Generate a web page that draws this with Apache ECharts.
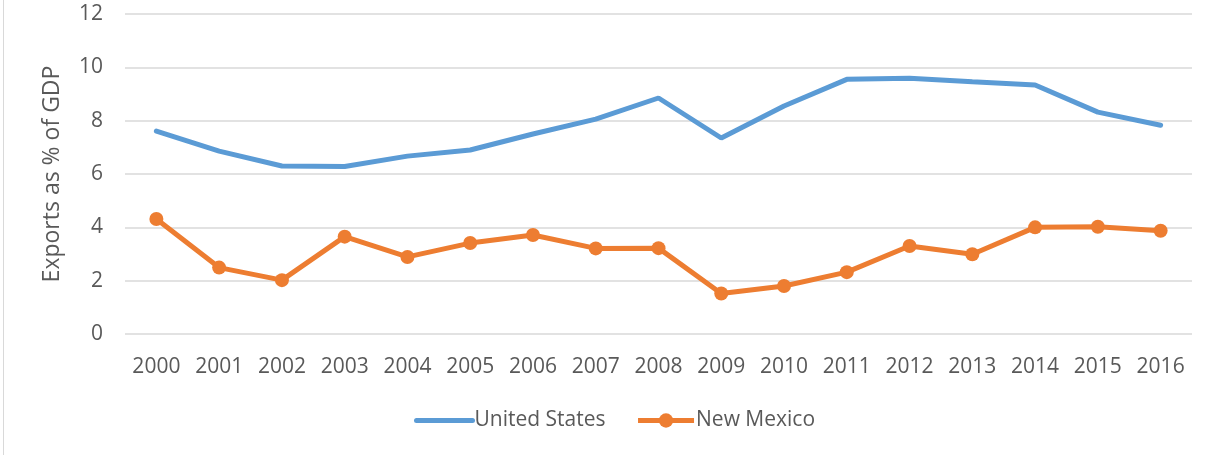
<!DOCTYPE html>
<html>
<head>
<meta charset="utf-8">
<script src="https://cdn.jsdelivr.net/npm/echarts@6/dist/echarts.min.js"></script>
<style>
  html, body { margin: 0; padding: 0; background: #fff; }
  #frame { position: absolute; left: 3px; top: 0; width: 1217px; height: 455px; border-left: 1.5px solid #d9d9d9; }
  #main { position: absolute; left: 0; top: 0; width: 1220px; height: 455px; }
</style>
</head>
<body>
<div id="frame"></div>
<div id="main"></div>
<script>
// 数据
var years = ['2000', '2001', '2002', '2003', '2004', '2005', '2006', '2007', '2008',
  '2009', '2010', '2011', '2012', '2013', '2014', '2015', '2016'];
var unitedStates = [7.61, 6.86, 6.30, 6.28, 6.67, 6.90, 7.50, 8.06, 8.85,
  7.35, 8.55, 9.55, 9.59, 9.46, 9.34, 8.32, 7.83];
var newMexico = [4.31, 2.49, 2.02, 3.65, 2.89, 3.41, 3.71, 3.21, 3.22,
  1.52, 1.80, 2.32, 3.30, 2.99, 4.00, 4.02, 3.87];
var yTicks = [0, 12, 2]; // min, max, interval

var textColor = '#595959';
var font = '"Open Sans", sans-serif';

var chartDom = document.getElementById('main');
var myChart = echarts.init(chartDom);
var option = {
  animation: false,
  grid: { left: 125, right: 28, top: 14, bottom: 121 },
  legend: {
    bottom: 19,
    left: 409,
    itemWidth: 56,
    itemHeight: 18,
    itemGap: 30,
    textStyle: { color: textColor, fontFamily: font, fontSize: 21, padding: [0, 0, 0, -3] },
    data: [
      { name: 'United States', itemStyle: { opacity: 0 }, lineStyle: { width: 5 } },
      { name: 'New Mexico', lineStyle: { width: 5 } }
    ]
  },
  xAxis: {
    type: 'category',
    data: years,
    boundaryGap: true,
    axisLine: { show: false },
    axisTick: { show: false },
    axisLabel: { color: textColor, fontFamily: font, fontSize: 21, margin: 23 }
  },
  yAxis: {
    type: 'value',
    min: yTicks[0],
    max: yTicks[1],
    interval: yTicks[2],
    name: 'Exports as % of GDP',
    nameLocation: 'middle',
    nameGap: 61,
    nameTextStyle: { color: textColor, fontFamily: font, fontSize: 23 },
    axisLine: { show: false },
    axisTick: { show: false },
    axisLabel: { color: textColor, fontFamily: font, fontSize: 21, margin: 22 },
    splitLine: { lineStyle: { color: '#d9d9d9', width: 1.5 } }
  },
  series: [
    {
      name: 'United States',
      type: 'line',
      data: unitedStates,
      symbol: 'none',
      lineStyle: { color: '#5b9bd5', width: 5, cap: 'round' },
      itemStyle: { color: '#5b9bd5' }
    },
    {
      name: 'New Mexico',
      type: 'line',
      data: newMexico,
      symbol: 'circle',
      symbolSize: 14,
      lineStyle: { color: '#ed7d31', width: 5 },
      itemStyle: { color: '#ed7d31' }
    }
  ]
};
option && myChart.setOption(option);
</script>
</body>
</html>
